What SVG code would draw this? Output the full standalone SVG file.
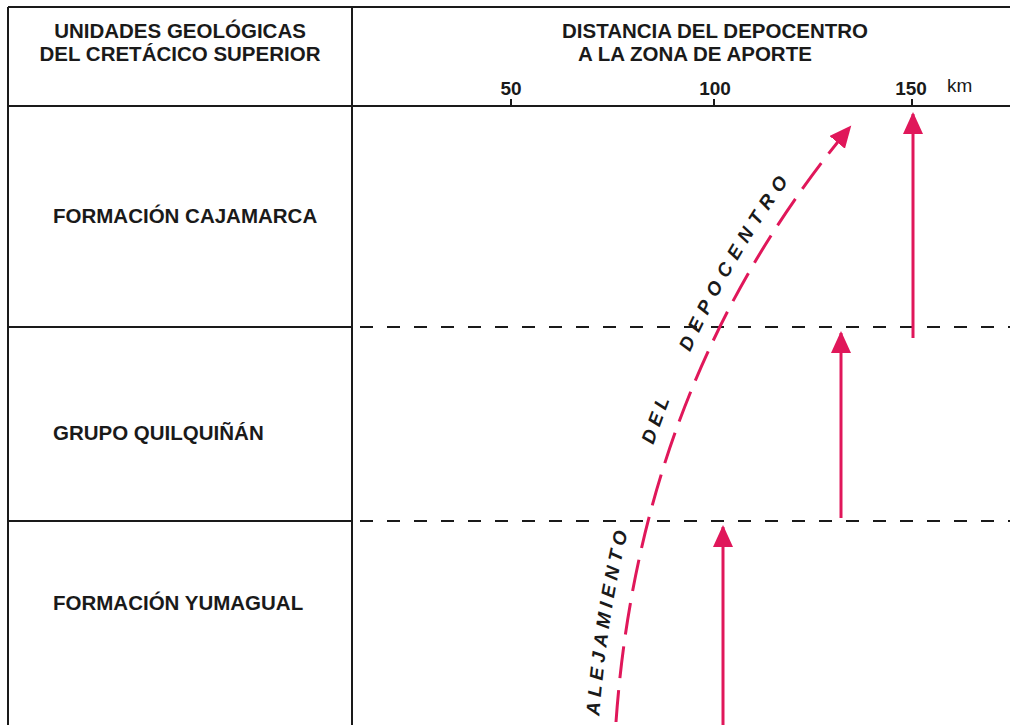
<svg xmlns="http://www.w3.org/2000/svg" width="1010" height="725" viewBox="0 0 1010 725">
<style>
.h{font-family:"Liberation Sans",Arial,sans-serif;font-weight:bold;font-size:20.5px;fill:#1a1a1a}
.s{font-family:"Liberation Sans",Arial,sans-serif;font-weight:bold;font-size:19px;fill:#1a1a1a}
.km{font-family:"Liberation Sans",Arial,sans-serif;font-size:19px;fill:#1a1a1a}
.c{font-family:"Liberation Sans",Arial,sans-serif;font-weight:bold;font-style:italic;font-size:19px;fill:#1a1a1a}
.frame{stroke:#1a1a1a;stroke-width:2;fill:none}
.dash{stroke:#1a1a1a;stroke-width:2;stroke-dasharray:13 14;fill:none}
.arr{stroke:#e0175a;stroke-width:3;fill:none}
</style>
<defs>
<marker id="ah" markerUnits="userSpaceOnUse" markerWidth="24" markerHeight="22" refX="20" refY="10" orient="auto">
<path d="M0,0 L22,10 L0,20 Z" fill="#e0175a"/>
</marker>
<path id="tp" d="M 599 722 Q 621 385 832 124"/>
</defs>
<rect width="1010" height="725" fill="#ffffff"/>
<g id="frame">
<line class="frame" x1="8" y1="7" x2="1010" y2="7"/>
<line class="frame" x1="8" y1="7" x2="8" y2="725"/>
<line class="frame" x1="352" y1="7" x2="352" y2="725"/>
<line class="frame" x1="8" y1="106" x2="1010" y2="106"/>
<line class="frame" x1="8" y1="327" x2="352" y2="327"/>
<line class="frame" x1="8" y1="521" x2="352" y2="521"/>
<line class="dash" x1="360" y1="327" x2="1010" y2="327"/>
<line class="dash" x1="360" y1="521" x2="1010" y2="521"/>
<line class="frame" x1="511" y1="99" x2="511" y2="106"/>
<line class="frame" x1="714" y1="99" x2="714" y2="106"/>
<line class="frame" x1="912" y1="99" x2="912" y2="106"/>
</g>
<g id="header-left">
<text class="h" x="180" y="38" text-anchor="middle">UNIDADES GEOLÓGICAS</text>
<text class="h" x="180" y="61" text-anchor="middle">DEL CRETÁCICO SUPERIOR</text>
</g>
<g id="header-right">
<text class="h" x="562" y="38">DISTANCIA DEL DEPOCENTRO</text>
<text class="h" x="578" y="61">A LA ZONA DE APORTE</text>
<text class="s" x="511" y="95" text-anchor="middle">50</text>
<text class="s" x="715" y="95" text-anchor="middle">100</text>
<text class="s" x="911" y="95" text-anchor="middle">150</text>
<text class="km" x="947" y="92">km</text>
</g>
<g id="unit-cajamarca"><text class="h" x="53" y="223">FORMACIÓN CAJAMARCA</text></g>
<g id="unit-quilquinan"><text class="h" x="53" y="440">GRUPO QUILQUIÑÁN</text></g>
<g id="unit-yumagual"><text class="h" x="53" y="610">FORMACIÓN YUMAGUAL</text></g>
<g id="connectors">
<path class="arr" d="M 616 722 Q 640 380 850 127" stroke-dasharray="32 12" marker-end="url(#ah)"/>
<line class="arr" x1="913" y1="338" x2="913" y2="114" marker-end="url(#ah)"/>
<line class="arr" x1="841" y1="518" x2="841" y2="333" marker-end="url(#ah)"/>
<line class="arr" x1="723" y1="725" x2="723" y2="527" marker-end="url(#ah)"/>
</g>
<g id="curve-label">
<text class="c" letter-spacing="5"><textPath href="#tp" startOffset="6">ALEJAMIENTO</textPath></text>
<text class="c" letter-spacing="5"><textPath href="#tp" startOffset="283">DEL</textPath></text>
<text class="c" letter-spacing="7"><textPath href="#tp" startOffset="383">DEPOCENTRO</textPath></text>
</g>
</svg>
